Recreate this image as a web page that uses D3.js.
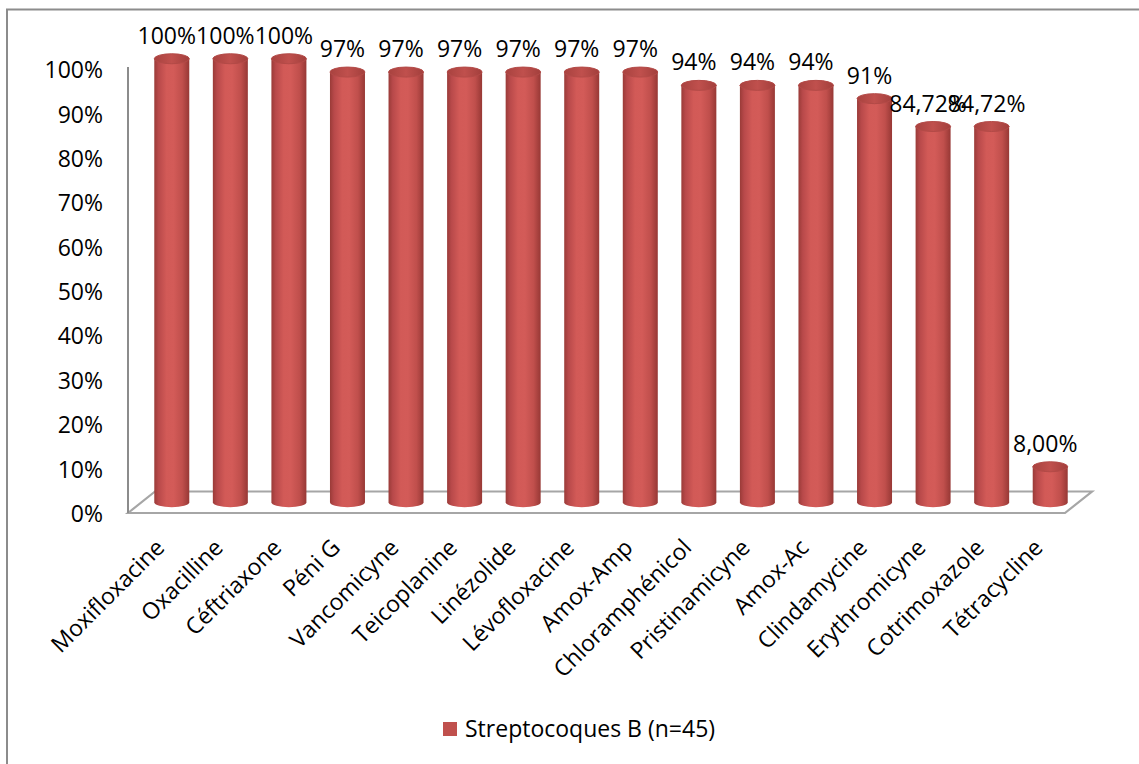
<!DOCTYPE html>
<html>
<head>
<meta charset="utf-8">
<script src="https://cdn.jsdelivr.net/npm/d3@7"></script>
<style>
  html, body { margin: 0; padding: 0; background: #fff; }
  svg { display: block; }
  text { font-family: "Open Sans", "Liberation Sans", sans-serif; fill: #000; }
</style>
</head>
<body>
<svg id="chart" width="1139" height="764"></svg>
<script>
// Antibiotic susceptibility of group B streptococci
const categories = ["Moxifloxacine", "Oxacilline", "Céftriaxone", "Péni G", "Vancomicyne",
  "Teicoplanine", "Linézolide", "Lévofloxacine", "Amox-Amp", "Chloramphénicol",
  "Pristinamicyne", "Amox-Ac", "Clindamycine", "Erythromicyne", "Cotrimoxazole", "Tétracycline"];
const values = [1.00, 1.00, 1.00, 0.97, 0.97, 0.97, 0.97, 0.97, 0.97, 0.94, 0.94, 0.94, 0.91, 0.8472, 0.8472, 0.08];
const labelDecimals = [0, 0, 0, 0, 0, 0, 0, 0, 0, 0, 0, 0, 0, 2, 2, 2];
const yTicks = [0, 0.1, 0.2, 0.3, 0.4, 0.5, 0.6, 0.7, 0.8, 0.9, 1.0];
const seriesName = "Streptocoques B (n=45)";

const svg = d3.select("#chart");
const W = 1139, H = 764;
const FS = 23;

// outer chart border (open at right and bottom edges of the canvas)
svg.append("rect")
  .attr("x", 7).attr("y", 9.5).attr("width", W + 20).attr("height", H + 20)
  .attr("fill", "#fff").attr("stroke", "#8c8c8c").attr("stroke-width", 2);

// front plane scales, and a depth offset for the 3D floor
const x = d3.scaleBand().domain(categories).range([128, 1065]).paddingInner(0).paddingOuter(0);
const y = d3.scaleLinear().domain([0, 1]).range([513, 69.5]);
const depth = { dx: 27, dy: -21.5 };
const mid = { dx: depth.dx / 2 + 1, dy: depth.dy / 2 };

// floor
const x0 = x.range()[0], x1 = x.range()[1], yf = y(0);
svg.append("path")
  .attr("d", `M${x0},${yf} L${x0 + depth.dx},${yf + depth.dy} L${x1 + depth.dx},${yf + depth.dy} L${x1},${yf} Z`)
  .attr("fill", "#fff").attr("stroke", "#a6a6a6").attr("stroke-width", 2.2)
  .attr("stroke-linejoin", "miter");

// vertical value axis line
svg.append("line")
  .attr("x1", x0).attr("x2", x0).attr("y1", y(1) - 2.5).attr("y2", yf)
  .attr("stroke", "#8c8c8c").attr("stroke-width", 2);

// value axis tick labels
const yAxis = d3.axisLeft(y).tickValues(yTicks).tickSize(0).tickPadding(0)
  .tickFormat(d3.format(".0%"));
const gy = svg.append("g").attr("transform", `translate(103,1)`).call(yAxis);
gy.select(".domain").remove();
gy.selectAll("text")
  .attr("font-size", FS)
  .style("font-family", "'Open Sans', sans-serif")
  .attr("fill", "#000");

// cylinder shading
const defs = svg.append("defs");
const side = defs.append("linearGradient").attr("id", "cylSide")
  .attr("x1", "0%").attr("x2", "100%").attr("y1", "0%").attr("y2", "0%");
[["0%", "#9a3b38"], ["12%", "#b8494a"], ["35%", "#d25a57"], ["55%", "#d35b58"],
 ["80%", "#c04f4c"], ["100%", "#973835"]]
  .forEach(([o, c]) => side.append("stop").attr("offset", o).attr("stop-color", c));
const topG = defs.append("linearGradient").attr("id", "cylTop")
  .attr("x1", "0%").attr("x2", "100%").attr("y1", "0%").attr("y2", "0%");
[["0%", "#a8423f"], ["50%", "#c0504d"], ["100%", "#a23f3c"]]
  .forEach(([o, c]) => topG.append("stop").attr("offset", o).attr("stop-color", c));

const bw = 35, rx = bw / 2, ry = 5;
const data = categories.map((c, i) => ({ c, v: values[i], dec: labelDecimals[i] }));
const cx = d => x(d.c) + x.bandwidth() / 2 + mid.dx;
const base = y(0) + mid.dy;
const topY = d => y(d.v) + mid.dy;

const bars = svg.append("g").selectAll("g").data(data).join("g");
bars.append("path")
  .attr("d", d => {
    const l = cx(d) - rx, r = cx(d) + rx, t = topY(d);
    return `M${l},${t} L${l},${base} A${rx},${ry} 0 0 0 ${r},${base} L${r},${t} Z`;
  })
  .attr("fill", "url(#cylSide)");
bars.append("ellipse")
  .attr("cx", cx).attr("cy", topY)
  .attr("rx", rx).attr("ry", ry)
  .attr("fill", "url(#cylTop)")
  .attr("stroke", "#b34a47").attr("stroke-width", 1);

// value labels
const fmt = d => d3.format(`.${d.dec}%`)(d.v).replace(".", ",");
svg.append("g").selectAll("text").data(data).join("text")
  .attr("x", d => cx(d) - 5)
  .attr("y", d => topY(d) - 15)
  .attr("text-anchor", "middle")
  .attr("font-size", FS)
  .text(fmt);

// category labels, rotated
svg.append("g").selectAll("text").data(data).join("text")
  .attr("transform", d => `translate(${cx(d) - 6},${549}) rotate(-45)`)
  .attr("text-anchor", "end")
  .attr("font-size", FS)
  .text(d => d.c);

// legend
const lg = svg.append("g").attr("transform", "translate(443,722)");
lg.append("rect").attr("width", 14).attr("height", 14).attr("fill", "#c0504d");
lg.append("text").attr("x", 22).attr("y", 15).attr("font-size", FS).text(seriesName);
</script>
</body>
</html>
